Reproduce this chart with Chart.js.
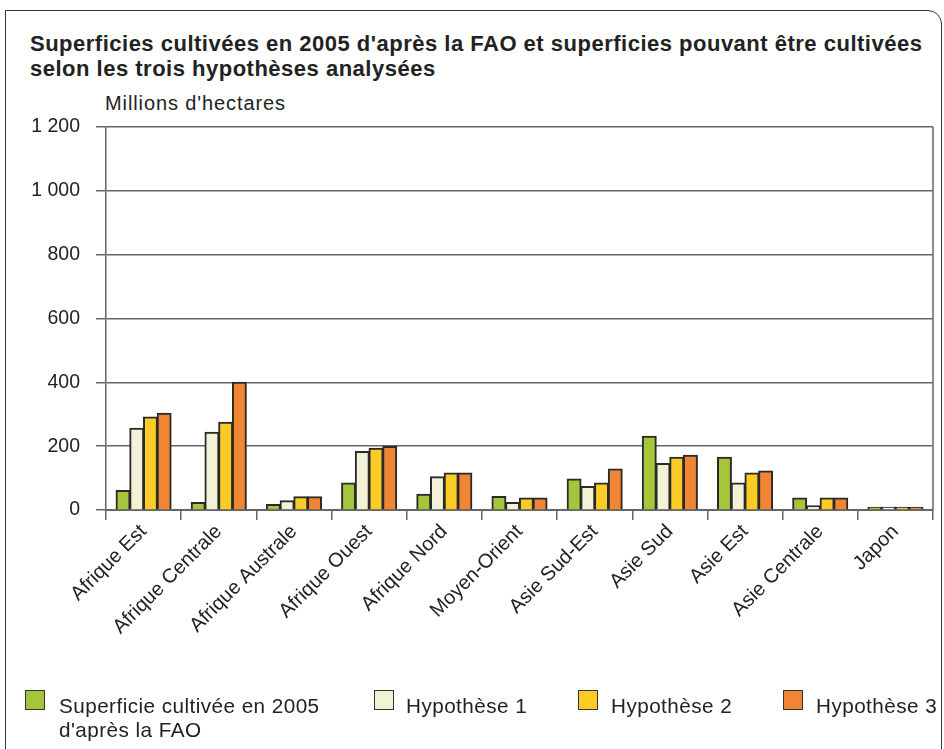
<!DOCTYPE html>
<html><head><meta charset="utf-8">
<script src="https://cdn.jsdelivr.net/npm/chart.js@4"></script>
<style>
html,body{margin:0;padding:0;background:#fff;width:944px;height:749px;overflow:hidden;font-family:"Liberation Sans",Arial,sans-serif;color:#222}
#frame{position:absolute;left:5px;top:10px;width:937px;height:800px;border:1.5px solid #333;border-top-right-radius:14px;box-sizing:border-box}
#title{position:absolute;left:30px;top:31px;font-size:22px;font-weight:bold;line-height:25px;letter-spacing:0.5px;color:#222;white-space:nowrap}
#unit{position:absolute;left:105px;top:92px;font-size:20px;letter-spacing:0.9px;color:#222}
#c{position:absolute;left:0;top:0}
.lg{position:absolute;font-size:20.7px;line-height:24px;letter-spacing:0.45px;color:#222;white-space:nowrap}
.sw{position:absolute;width:20px;height:20px;border:1.5px solid #333;box-sizing:border-box}
</style></head>
<body>
<div id="frame"></div>
<div id="title">Superficies cultivées en 2005 d'après la FAO et superficies pouvant être cultivées<br>selon les trois hypothèses analysées</div>
<div id="unit">Millions d'hectares</div>
<canvas id="c" width="944" height="749"></canvas>
<div class="sw" style="left:25px;top:690px;background:#a5c63b"></div>
<div class="lg" style="left:59px;top:694px">Superficie cultivée en 2005<br>d'après la FAO</div>
<div class="sw" style="left:374px;top:690px;background:#f4f2d6"></div>
<div class="lg" style="left:406px;top:694px">Hypothèse 1</div>
<div class="sw" style="left:578px;top:690px;background:#fccb25"></div>
<div class="lg" style="left:611px;top:694px">Hypothèse 2</div>
<div class="sw" style="left:783px;top:690px;background:#f08533"></div>
<div class="lg" style="left:816px;top:694px">Hypothèse 3</div>
<script>
const categories = ["Afrique Est","Afrique Centrale","Afrique Australe","Afrique Ouest","Afrique Nord","Moyen-Orient","Asie Sud-Est","Asie Sud","Asie Est","Asie Centrale","Japon"];
const fao2005 = [61, 23, 17, 84, 49, 42, 97, 231, 165, 37, 8];
const hypothese1 = [256, 243, 29, 183, 104, 23, 73, 145, 84, 13, 8];
const hypothese2 = [291, 275, 41, 193, 116, 37, 84, 165, 116, 37, 8];
const hypothese3 = [303, 400, 41, 199, 116, 37, 128, 171, 122, 37, 8];
const seriesNames = ["Superficie cultivée en 2005 d'après la FAO","Hypothèse 1","Hypothèse 2","Hypothèse 3"];
const yTicks = [0, 200, 400, 600, 800, 1000, 1200];

const colors = ["#a5c63b","#f4f2d6","#fccb25","#f08533"];
const vals = [fao2005, hypothese1, hypothese2, hypothese3];
new Chart(document.getElementById('c'), {
  type: 'bar',
  data: {
    labels: categories,
    datasets: vals.map((v,i)=>({label: seriesNames[i], data: v, backgroundColor: colors[i], borderColor: '#2a2a2a', borderWidth: 2, borderSkipped: 'bottom', inflateAmount: 0.6, barPercentage: 1.0, categoryPercentage: 0.73}))
  },
  options: {
    responsive: false, animation: false, devicePixelRatio: 1,
    layout: {padding: {left: 0, right: 11, top: 127, bottom: 0}},
    plugins: {legend: {display: false}, tooltip: {enabled: false}},
    scales: {
      x: {
        grid: {display: true, offset: true, drawOnChartArea: false, drawTicks: true, tickLength: 10, color: '#666', lineWidth: 1.5},
        border: {display: true, color: '#666', width: 2},
        ticks: {color: '#222', font: {family: '"Liberation Sans", Arial, sans-serif', size: 20}, maxRotation: 45, minRotation: 45, autoSkip: false, padding: 0},
        afterFit: s => { s.height = 239; }
      },
      y: {
        min: 0, max: 1200,
        afterBuildTicks: s => { s.ticks = yTicks.map(v=>({value:v})); },
        grid: {color: '#666', lineWidth: 1.5, tickLength: 10},
        border: {display: true, color: '#666', width: 1.5},
        ticks: {color: '#222', font: {family: '"Liberation Sans", Arial, sans-serif', size: 19.5}, padding: 16,
          callback: v => v >= 1000 ? Math.floor(v/1000) + ' ' + String(v%1000).padStart(3,'0') : String(v)},
        afterFit: s => { s.width = 106; }
      }
    }
  },
  plugins: [{
    id: 'rightBorder',
    afterDraw(chart){
      const a = chart.chartArea, ctx = chart.ctx;
      ctx.save(); ctx.strokeStyle = '#666'; ctx.lineWidth = 1.5;
      ctx.beginPath(); ctx.moveTo(a.right, a.top); ctx.lineTo(a.right, a.bottom); ctx.stroke(); ctx.restore();
    }
  }]
});
</script>
</body></html>
